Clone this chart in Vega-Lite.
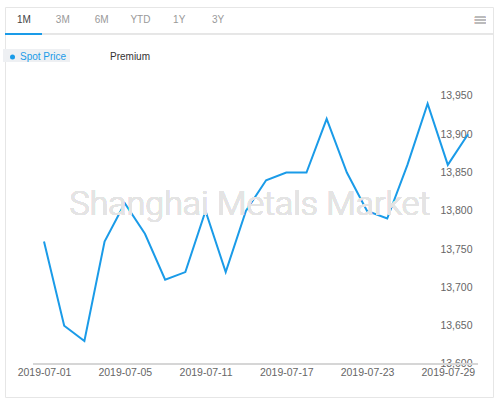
{
  "$schema": "https://vega.github.io/schema/vega-lite/v6.json",
  "width": 488,
  "height": 390,
  "autosize": "none",
  "padding": {"left": 5, "top": 7, "right": 7, "bottom": 6},
  "background": "white",
  "config": {"view": {"stroke": "#e6e6e6", "strokeWidth": 1}, "font": "Liberation Sans"},
  "data": {"values": [
    {"date": "2019-07-01", "price": 13760, "series": "Spot Price"},
    {"date": "2019-07-02", "price": 13650, "series": "Spot Price"},
    {"date": "2019-07-03", "price": 13630, "series": "Spot Price"},
    {"date": "2019-07-04", "price": 13760, "series": "Spot Price"},
    {"date": "2019-07-05", "price": 13810, "series": "Spot Price"},
    {"date": "2019-07-08", "price": 13770, "series": "Spot Price"},
    {"date": "2019-07-09", "price": 13710, "series": "Spot Price"},
    {"date": "2019-07-10", "price": 13720, "series": "Spot Price"},
    {"date": "2019-07-11", "price": 13800, "series": "Spot Price"},
    {"date": "2019-07-12", "price": 13720, "series": "Spot Price"},
    {"date": "2019-07-15", "price": 13800, "series": "Spot Price"},
    {"date": "2019-07-16", "price": 13840, "series": "Spot Price"},
    {"date": "2019-07-17", "price": 13850, "series": "Spot Price"},
    {"date": "2019-07-18", "price": 13850, "series": "Spot Price"},
    {"date": "2019-07-19", "price": 13920, "series": "Spot Price"},
    {"date": "2019-07-22", "price": 13850, "series": "Spot Price"},
    {"date": "2019-07-23", "price": 13800, "series": "Spot Price"},
    {"date": "2019-07-24", "price": 13790, "series": "Spot Price"},
    {"date": "2019-07-25", "price": 13860, "series": "Spot Price"},
    {"date": "2019-07-26", "price": 13940, "series": "Spot Price"},
    {"date": "2019-07-29", "price": 13860, "series": "Spot Price"},
    {"date": "2019-07-30", "price": 13900, "series": "Spot Price"}
  ]},
  "layer": [
    {
      "layer": [
        {
          "mark": {"type": "line", "strokeWidth": 2, "interpolate": "linear"},
          "encoding": {
            "x": {
              "field": "date", "type": "ordinal",
              "scale": {"type": "point", "range": [39, 463], "padding": 0},
              "axis": {
                "orient": "bottom", "offset": -33, "domain": false, "ticks": false, "grid": false,
                "labelAngle": 0, "labelPadding": 3.5, "labelColor": "#666666", "labelFontSize": 10.5,
                "labelFont": "Liberation Sans", "labelOverlap": false, "title": null,
                "values": ["2019-07-01", "2019-07-05", "2019-07-11", "2019-07-17", "2019-07-23", "2019-07-29"]
              }
            },
            "y": {
              "field": "price", "type": "quantitative",
              "scale": {"domain": [13556.9, 14066.2], "nice": false, "zero": false},
              "axis": {
                "orient": "right", "domain": false, "ticks": false, "grid": false,
                "labelAlign": "right", "labelPadding": -21, "labelColor": "#666666", "labelFontSize": 10.5,
                "labelFont": "Liberation Sans", "labelBaseline": "middle",
                "labelExpr": "format(datum.value, ',.0f')", "title": null,
                "values": [13600, 13650, 13700, 13750, 13800, 13850, 13900, 13950]
              }
            },
            "color": {
              "field": "series", "type": "nominal",
              "scale": {"domain": ["Spot Price", "Premium"], "range": ["#1a9be8", "transparent"]},
              "legend": {
                "orient": "none", "legendX": 2.5, "legendY": 45, "direction": "horizontal", "title": null,
                "symbolType": "circle", "symbolSize": 25, "symbolStrokeWidth": 0,
                "labelFontSize": 10, "labelFont": "Liberation Sans", "labelOffset": 2.5, "columnPadding": 31, "padding": 0,
                "encode": {
                  "symbols": {"update": {"fill": {"signal": "datum.label === 'Spot Price' ? '#1a9be8' : 'transparent'"}, "stroke": {"value": "transparent"}}},
                  "labels": {"update": {"fill": {"signal": "datum.label === 'Spot Price' ? '#1a9be8' : '#333333'"}}}
                }
              }
            }
          }
        },
        {
          "mark": {"type": "rule", "color": "#e6e6e6", "strokeWidth": 1},
          "encoding": {"y": {"datum": 14031, "scale": {"domain": [13556.9, 14066.2], "nice": false, "zero": false}}}
        },
        {
          "mark": {"type": "rule", "color": "#d6d6d6", "strokeWidth": 1, "xOffset": -11, "x2Offset": 10},
          "encoding": {
            "x": {"datum": "2019-07-01", "type": "ordinal", "scale": {"type": "point", "range": [39, 463], "padding": 0}},
            "x2": {"datum": "2019-07-30"},
            "y": {"datum": 13600, "scale": {"domain": [13556.9, 14066.2], "nice": false, "zero": false}}
          }
        },
        {
          "mark": {"type": "text", "fontSize": 34, "font": "Roboto", "fontWeight": 300, "color": "#e4e4e4", "align": "center", "baseline": "alphabetic", "dx": 4},
          "encoding": {
            "x": {"datum": "2019-07-15", "type": "ordinal", "scale": {"type": "point", "range": [39, 463], "padding": 0}},
            "y": {"datum": 13795, "scale": {"domain": [13556.9, 14066.2], "nice": false, "zero": false}},
            "text": {"value": "Shanghai Metals Market"}
          }
        },
        {
          "mark": {"type": "text", "fontSize": 16, "font": "DejaVu Sans", "color": "#bbbbbb", "align": "center", "baseline": "middle", "dx": 12},
          "encoding": {
            "x": {"datum": "2019-07-30", "type": "ordinal", "scale": {"type": "point", "range": [39, 463], "padding": 0}},
            "y": {"datum": 14049.5, "scale": {"domain": [13556.9, 14066.2], "nice": false, "zero": false}},
            "text": {"value": "≡"}
          }
        }
      ]
    },
    {
      "data": {"values": [
        {"tab": "1M"}, {"tab": "3M"}, {"tab": "6M"}, {"tab": "YTD"}, {"tab": "1Y"}, {"tab": "3Y"}
      ]},
      "layer": [
        {
          "mark": {"type": "rect", "color": "#eef0f3", "xOffset": -21, "x2Offset": 46},
          "encoding": {
            "x": {"datum": "1M", "type": "nominal", "scale": {"type": "point", "range": [19, 213], "padding": 0}, "axis": null},
            "x2": {"datum": "1M"},
            "y": {"datum": 14011.4, "scale": {"domain": [13556.9, 14066.2], "nice": false, "zero": false}},
            "y2": {"datum": 13994.4}
          }
        },
        {
          "mark": {"type": "text", "fontSize": 10, "font": "Liberation Sans", "align": "center", "baseline": "middle"},
          "encoding": {
            "x": {"field": "tab", "type": "nominal", "sort": null, "scale": {"type": "point", "range": [19, 213], "padding": 0}, "axis": null},
            "y": {"datum": 14049.3, "scale": {"domain": [13556.9, 14066.2], "nice": false, "zero": false}},
            "text": {"field": "tab"},
            "color": {"condition": {"test": "datum.tab === '1M'", "value": "#444444"}, "value": "#999999"}
          }
        },
        {
          "mark": {"type": "rule", "color": "#1a9be8", "strokeWidth": 2, "xOffset": -19, "x2Offset": 18},
          "encoding": {
            "x": {"datum": "1M", "type": "nominal", "scale": {"type": "point", "range": [19, 213], "padding": 0}, "axis": null},
            "x2": {"datum": "1M"},
            "y": {"datum": 14031, "scale": {"domain": [13556.9, 14066.2], "nice": false, "zero": false}}
          }
        }
      ]
    }
  ],
  "resolve": {"scale": {"x": "independent"}}
}
